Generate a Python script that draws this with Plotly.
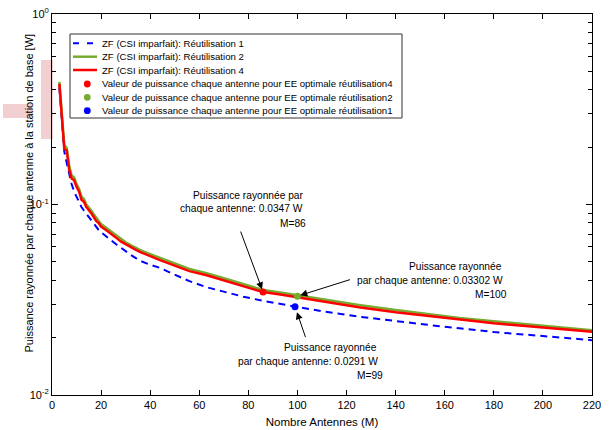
import numpy as np
import plotly.graph_objects as go

# ---------------- data ----------------
M = [3, 4, 5, 6, 7, 8, 9, 10, 11, 12, 13, 14, 15, 16, 17, 18, 19, 20, 22, 24, 26, 28, 30,
     32, 34, 36, 39, 44, 50, 56, 63, 70, 78, 86, 93, 100, 110, 125, 140, 155, 166, 180, 200, 220]

reuse1_blue = [0.41, 0.27, 0.19, 0.165, 0.143, 0.128, 0.117, 0.110, 0.103, 0.097, 0.093, 0.0895,
               0.085, 0.082, 0.079, 0.076, 0.0735, 0.0715, 0.068, 0.065, 0.062, 0.0595, 0.0568,
               0.0545, 0.0525, 0.0506, 0.0488, 0.0465, 0.0428, 0.0396, 0.0368, 0.0348, 0.0328,
               0.0312, 0.0300, 0.0291, 0.0275, 0.0258, 0.0244, 0.0232, 0.0224, 0.0214, 0.0204, 0.0194]

reuse2_green = [0.44, 0.29, 0.205, 0.198, 0.160, 0.142, 0.139, 0.128, 0.121, 0.110, 0.107, 0.100,
                0.097, 0.093, 0.089, 0.085, 0.082, 0.079, 0.0755, 0.0725, 0.069, 0.0658, 0.0634,
                0.0612, 0.0593, 0.0576, 0.0555, 0.0523, 0.0490, 0.0459, 0.0436, 0.0410, 0.0382,
                0.0356, 0.0345, 0.0334, 0.0316, 0.0297, 0.0279, 0.0264, 0.0254, 0.0244, 0.0231, 0.0219]

reuse4_red = [0.43, 0.28, 0.196, 0.192, 0.152, 0.137, 0.134, 0.124, 0.117, 0.106, 0.1035, 0.097,
              0.094, 0.090, 0.086, 0.082, 0.080, 0.0765, 0.0735, 0.0706, 0.0672, 0.064, 0.0618,
              0.0598, 0.0580, 0.0563, 0.0542, 0.0510, 0.0478, 0.0447, 0.0425, 0.0400, 0.0373,
              0.0347, 0.0337, 0.0326, 0.0309, 0.0289, 0.0272, 0.0258, 0.0248, 0.0238, 0.0226, 0.0215]

# optimal EE points (M, power)
opt4_M, opt4_P = [86], [0.0347]
opt2_M, opt2_P = [100], [0.03302]
opt1_M, opt1_P = [99], [0.0291]

series_names = ["ZF (CSI imparfait): Réutilisation 1",
                "ZF (CSI imparfait): Réutilisation 2",
                "ZF (CSI imparfait): Réutilisation 4",
                "Valeur de puissance chaque antenne pour EE optimale réutilisation4",
                "Valeur de puissance chaque antenne pour EE optimale réutilisation2",
                "Valeur de puissance chaque antenne pour EE optimale réutilisation1"]

x_ticks = [0, 20, 40, 60, 80, 100, 120, 140, 160, 180, 200, 220]
y_ticks = [0.01, 0.1, 1]
y_ticktext = ["10<sup>-2</sup>", "10<sup>-1</sup>", "10<sup>0</sup>"]
y_minor = [k * d for d in (0.01, 0.1) for k in range(2, 10)]

x_title = "Nombre Antennes (M)"
y_title = "Puissance rayonnée par chaque antenne à la station de base [W]"

BLUE, GREEN, RED = "#0000FF", "#77AC30", "#FF0000"
FONT = "Liberation Sans, Arial, sans-serif"

# ---------------- layout geometry (pixels) ----------------
W, H = 614, 430
L, R, T, B = 52, 22, 14, 35
PW, PH = W - L - R, H - T - B


def px(x):
    return (x - L) / PW


def py(y):
    return (H - B - y) / PH


fig = go.Figure()
fig.add_trace(go.Scatter(x=M, y=reuse1_blue, mode="lines", name=series_names[0],
                         line=dict(color=BLUE, width=2, dash="7px,5px")))
fig.add_trace(go.Scatter(x=M, y=reuse2_green, mode="lines", name=series_names[1],
                         line=dict(color=GREEN, width=2.5)))
fig.add_trace(go.Scatter(x=M, y=reuse4_red, mode="lines", name=series_names[2],
                         line=dict(color=RED, width=2.5)))
fig.add_trace(go.Scatter(x=opt4_M, y=opt4_P, mode="markers", name=series_names[3],
                         marker=dict(color=RED, size=7, symbol="circle")))
fig.add_trace(go.Scatter(x=opt2_M, y=opt2_P, mode="markers", name=series_names[4],
                         marker=dict(color=GREEN, size=7, symbol="circle")))
fig.add_trace(go.Scatter(x=opt1_M, y=opt1_P, mode="markers", name=series_names[5],
                         marker=dict(color=BLUE, size=7, symbol="circle")))

shapes = []
annotations = []

# pink highlight artefacts on the left
PINK = "rgb(242,207,208)"
shapes.append(dict(type="rect", xref="paper", yref="paper", layer="below",
                   x0=px(41), x1=px(53), y0=py(139), y1=py(60),
                   fillcolor=PINK, line=dict(width=0)))
shapes.append(dict(type="rect", xref="paper", yref="paper", layer="below",
                   x0=px(3), x1=px(32), y0=py(118), y1=py(104),
                   fillcolor=PINK, line=dict(width=0)))

# y-axis title (placed precisely, drawn over the pink band)
annotations.append(dict(xref="paper", yref="paper", x=px(28), y=py(193.5),
                        xanchor="center", yanchor="middle", showarrow=False,
                        text=y_title, textangle=-90,
                        font=dict(family=FONT, size=11, color="black")))

# legend box (manual, to match compact row spacing)
shapes.append(dict(type="rect", xref="paper", yref="paper", layer="above",
                   x0=px(70), x1=px(402), y0=py(118), y1=py(34),
                   fillcolor="white", line=dict(color="#333333", width=1)))
rows = [43.3, 56.7, 70.0, 84.0, 97.3, 110.7]
line_styles = [(BLUE, "6px,8px", 2), (GREEN, "solid", 2.5), (RED, "solid", 2.5)]
for i, (c, d, w) in enumerate(line_styles):
    shapes.append(dict(type="line", xref="paper", yref="paper", layer="above",
                       x0=px(73), x1=px(97), y0=py(rows[i]), y1=py(rows[i]),
                       line=dict(color=c, width=w, dash=d)))
for i, c in enumerate([RED, GREEN, BLUE]):
    r = rows[3 + i]
    shapes.append(dict(type="circle", xref="paper", yref="paper", layer="above",
                       x0=px(87.3 - 3.4), x1=px(87.3 + 3.4), y0=py(r + 3.4), y1=py(r - 3.4),
                       fillcolor=c, line=dict(width=0)))
for i, name in enumerate(series_names):
    annotations.append(dict(xref="paper", yref="paper", x=px(100), y=py(rows[i]),
                            xanchor="left", yanchor="middle", showarrow=False, text=name,
                            font=dict(family=FONT, size=9.6, color="black")))

# data callouts: text lines
callout_lines = [
    ("Puissance rayonnée par", 247.5, 195.0),
    ("chaque antenne: 0.0347 W", 241.0, 208.5),
    ("M=86", 293.0, 223.0),
    ("Puissance rayonnée", 455.0, 266.0),
    ("par chaque antenne: 0.03302 W", 429.5, 280.0),
    ("M=100", 490.5, 294.0),
    ("Puissance rayonnée", 330.3, 347.0),
    ("par chaque antenne: 0.0291 W", 308.0, 361.5),
    ("M=99", 369.7, 375.5),
]
for t, cx, cy in callout_lines:
    annotations.append(dict(xref="paper", yref="paper", x=px(cx), y=py(cy),
                            xanchor="center", yanchor="middle", showarrow=False, text=t,
                            font=dict(family=FONT, size=10.2, color="black")))

# arrows pointing at the optimal points
arrows = [(opt4_M[0], opt4_P[0], -23, -62, 3),
          (opt2_M[0], opt2_P[0], 54, -17, 3),
          (opt1_M[0], opt1_P[0], 11, 32, 6)]
for xm, yp, ax, ay, so in arrows:
    annotations.append(dict(x=xm, y=np.log10(yp), xref="x", yref="y", text="",
                            showarrow=True, ax=ax, ay=ay, arrowhead=2, arrowsize=1.4,
                            arrowwidth=1, arrowcolor="black", standoff=so))

fig.update_layout(
    width=W, height=H,
    margin=dict(l=L, r=R, t=T, b=B, pad=0, autoexpand=False),
    paper_bgcolor="white", plot_bgcolor="white",
    showlegend=False,
    font=dict(family=FONT, size=11, color="black"),
    shapes=shapes, annotations=annotations,
    xaxis=dict(range=[0, 220], tickvals=x_ticks, ticks="inside", ticklen=5,
               tickcolor="black", showline=True, linecolor="black", linewidth=1,
               mirror="ticks", showgrid=False, zeroline=False, automargin=False,
               tickfont=dict(family=FONT, size=11, color="black"),
               title=dict(text=x_title, standoff=7,
                          font=dict(family=FONT, size=11.5, color="black"))),
    yaxis=dict(type="log", range=[-2, 0], tickvals=y_ticks, ticktext=y_ticktext,
               ticks="inside", ticklen=6, tickcolor="black",
               minor=dict(tickvals=y_minor, ticks="inside", ticklen=4, tickcolor="black"),
               showline=True, linecolor="black", linewidth=1, mirror="ticks",
               showgrid=False, zeroline=False, automargin=False,
               tickfont=dict(family=FONT, size=11, color="black")),
)

fig.write_html("out.html")
